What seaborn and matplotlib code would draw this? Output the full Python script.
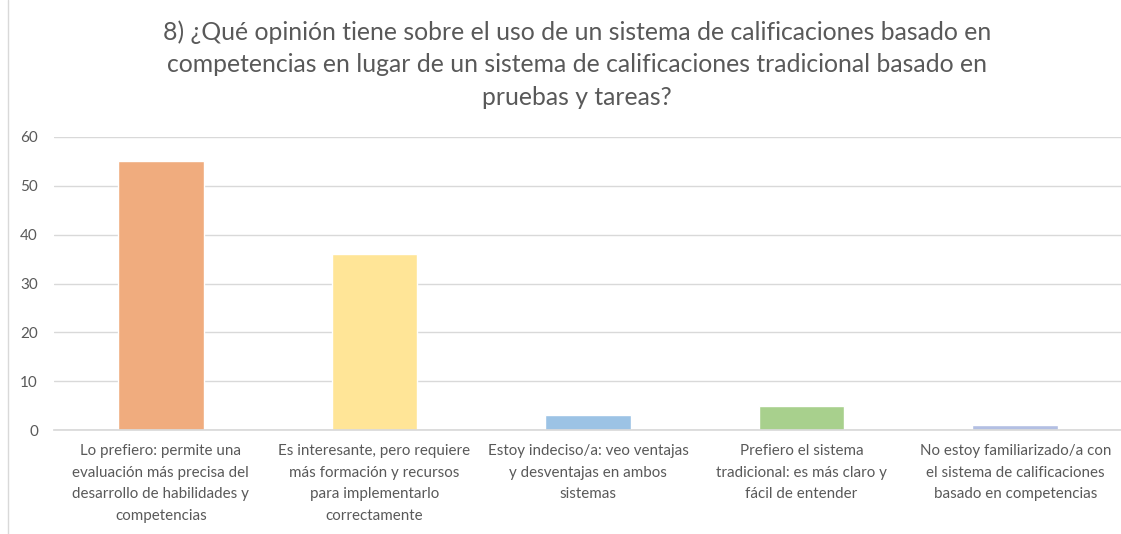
import matplotlib
matplotlib.use("Agg")
import matplotlib.pyplot as plt
import seaborn as sns
import pandas as pd
from matplotlib.lines import Line2D

categories = [
    "Lo prefiero: permite una\nevaluación más precisa del\ndesarrollo de habilidades y\ncompetencias",
    "Es interesante, pero requiere\nmás formación y recursos\npara implementarlo\ncorrectamente",
    "Estoy indeciso/a: veo ventajas\ny desventajas en ambos\nsistemas",
    "Prefiero el sistema\ntradicional: es más claro y\nfácil de entender",
    "No estoy familiarizado/a con\nel sistema de calificaciones\nbasado en competencias",
]
values = [55, 36, 3, 5, 1]
colors = ["#F0AC7E", "#FFE597", "#9CC3E5", "#A8D08D", "#B3BFE3"]
title = ("8) ¿Qué opinión tiene sobre el uso de un sistema de calificaciones basado en\n"
         "competencias en lugar de un sistema de calificaciones tradicional basado en\n"
         "pruebas y tareas?")

df = pd.DataFrame({"cat": categories, "val": values})

sns.set_theme(style="white")
plt.rcParams["font.family"] = ["Lato", "DejaVu Sans"]

fig = plt.figure(figsize=(11.21, 5.34), dpi=100)
ax = fig.add_axes([54 / 1121, 1 - 430 / 534, 1068 / 1121, 293 / 534])

sns.barplot(data=df, x="cat", y="val", hue="cat", palette=colors,
            width=0.4, legend=False, ax=ax, saturation=1)

ax.set_ylim(0, 60)
ax.set_yticks(range(0, 61, 10))
ax.grid(axis="y", color="#d9d9d9", linewidth=1)
ax.set_axisbelow(True)
for s in ["top", "right", "left"]:
    ax.spines[s].set_visible(False)
ax.spines["bottom"].set_color("#d9d9d9")
ax.tick_params(axis="y", colors="#595959", labelsize=11, length=0, pad=11.5)
ax.tick_params(axis="x", colors="#595959", labelsize=10.9, length=0, pad=10)
for lbl in ax.get_xticklabels():
    lbl.set_linespacing(1.7)
ax.set_xlabel("")
ax.set_ylabel("")

fig.text(577 / 1121, 1 - 20 / 534, title, ha="center", va="top", fontsize=17.8,
         color="#595959", linespacing=1.52)

fig.add_artist(Line2D([8 / 1121, 8 / 1121], [0, 1], color="#d9d9d9",
                      linewidth=1, transform=fig.transFigure))

fig.savefig("out.png", dpi=100)
